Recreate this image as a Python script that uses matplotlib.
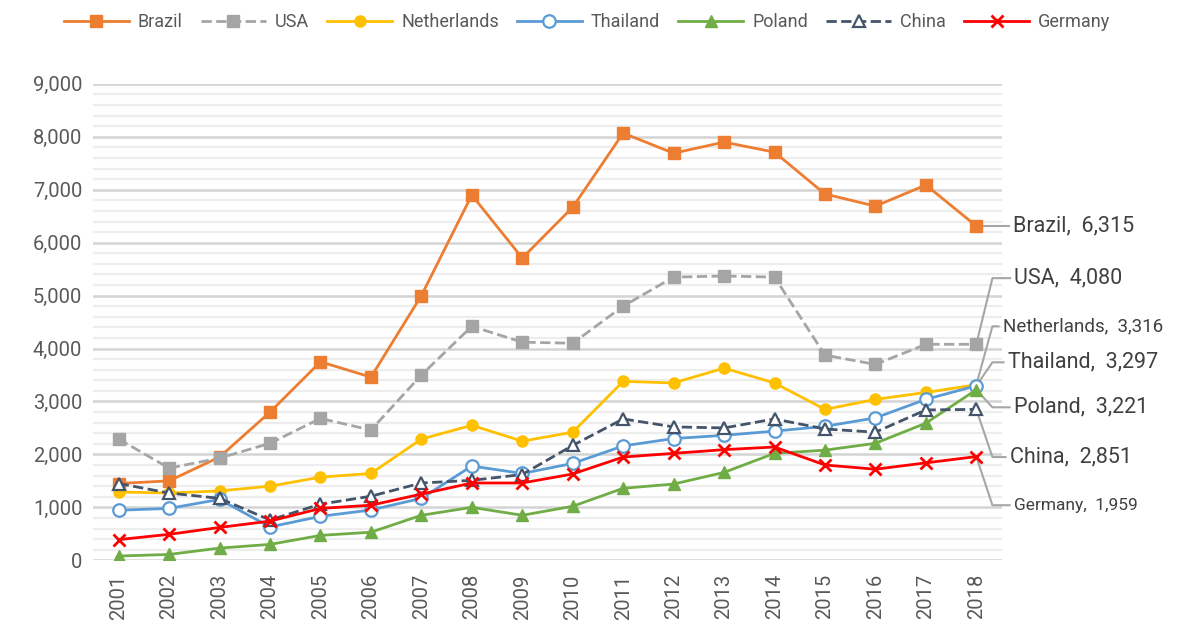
import numpy as np
import matplotlib.pyplot as plt
from matplotlib.ticker import MultipleLocator, FuncFormatter

plt.rcParams['font.family'] = ['Roboto', 'DejaVu Sans']

years = list(range(2001, 2019))

brazil = [1450, 1500, 1950, 2800, 3750, 3460, 5000, 6900, 5710, 6670,
          8070, 7690, 7900, 7710, 6920, 6690, 7090, 6315]
usa = [2290, 1740, 1930, 2210, 2680, 2460, 3500, 4420, 4120, 4100,
       4800, 5350, 5370, 5350, 3875, 3700, 4080, 4080]
netherlands = [1290, 1270, 1310, 1400, 1570, 1640, 2290, 2550, 2250, 2420,
               3380, 3350, 3630, 3350, 2850, 3040, 3170, 3316]
thailand = [945, 980, 1150, 630, 830, 950, 1170, 1780, 1640, 1830,
            2160, 2300, 2360, 2440, 2530, 2690, 3040, 3297]
poland = [80, 110, 230, 300, 470, 530, 850, 1000, 850, 1020,
          1360, 1440, 1660, 2020, 2080, 2210, 2590, 3221]
china = [1450, 1270, 1170, 760, 1060, 1210, 1460, 1510, 1620, 2170,
         2670, 2520, 2500, 2670, 2480, 2420, 2840, 2851]
germany = [390, 490, 620, 740, 980, 1040, 1250, 1460, 1460, 1630,
           1950, 2020, 2090, 2140, 1800, 1720, 1840, 1959]

names = ['Brazil', 'USA', 'Netherlands', 'Thailand', 'Poland', 'China', 'Germany']
series = [brazil, usa, netherlands, thailand, poland, china, germany]

# where the end labels sit (y in data units) and their font sizes
label_y = [6315, 5330, 4420, 3740, 2890, 1950, 1040]
label_x = [2018.72, 2018.75, 2018.52, 2018.62, 2018.74, 2018.66, 2018.74]
label_fs = [15.5, 15.5, 13.5, 15.5, 15.5, 15.5, 12.5]

styles = [
    dict(color='#ED7D31', ls='-', marker='s', mfc='#ED7D31', ms=8),
    dict(color='#A5A5A5', ls='--', marker='s', mfc='#A5A5A5', ms=8),
    dict(color='#FFC000', ls='-', marker='o', mfc='#FFC000', ms=8),
    dict(color='#5B9BD5', ls='-', marker='o', mfc='white', ms=9, mew=1.6),
    dict(color='#70AD47', ls='-', marker='^', mfc='#70AD47', ms=8),
    dict(color='#44546A', ls='--', marker='^', mfc='white', ms=9, mew=1.6),
    dict(color='#FF0000', ls='-', marker='x', ms=9, mew=2),
]

fig = plt.figure(figsize=(11.98, 6.26), dpi=100)
ax = fig.add_axes([0.078, 0.105, 0.758, 0.761])

for name, vals, st in zip(names, series, styles):
    ax.plot(years, vals, label=name, lw=2, mec=st['color'], **st)

ax.set_xlim(2000.5, 2018.5)
ax.set_ylim(0, 9000)
ax.yaxis.set_major_locator(MultipleLocator(1000))
ax.yaxis.set_minor_locator(MultipleLocator(200))
ax.yaxis.set_major_formatter(FuncFormatter(lambda v, p: f'{int(v):,}'))
ax.grid(axis='y', which='minor', color='#EDEDED', lw=1.6, zorder=0)
ax.grid(axis='y', which='major', color='#D4D4D4', lw=1.8, zorder=0)
ax.set_axisbelow(True)
ax.set_xticks(years)
ax.set_xticklabels([str(y) for y in years], rotation=90)
ax.tick_params(axis='both', which='both', length=0, labelsize=14.5,
               colors='#595959', pad=8)
ax.tick_params(axis='x', pad=10)
for s in ax.spines.values():
    s.set_visible(False)

# leader lines + end labels
grey = '#A6A6A6'
last = years[-1]
for name, vals, ly, lx, fs in zip(names, series, label_y, label_x, label_fs):
    v = vals[-1]
    if name == 'Brazil':
        xs, ys = [last, lx - 0.08], [v, ly]
    else:
        xs, ys = [last, 2018.32, lx - 0.08], [v, ly, ly]
    ax.plot(xs, ys, color=grey, lw=1.5, clip_on=False, zorder=1)
    ax.text(lx, ly, f'{name},  {v:,}', fontsize=fs, color='#404040',
            va='center', ha='left', clip_on=False)

fig.legend(loc='upper center', bbox_to_anchor=(0.49, 1.005), ncol=7, frameon=False,
           fontsize=13, handlelength=3.6, columnspacing=1.0, handletextpad=0.5,
           labelcolor='#595959')

fig.savefig('out.png', dpi=100)
